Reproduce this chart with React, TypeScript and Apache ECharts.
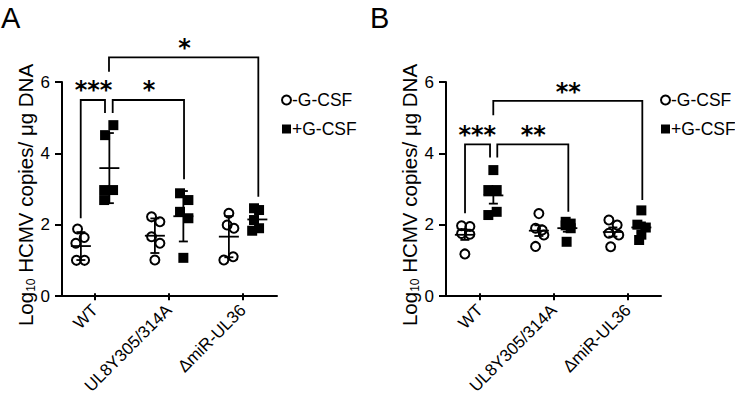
import React, { useEffect, useRef } from 'react';
import * as echarts from 'echarts';

const categories = ['WT', 'UL8Y305/314A', 'ΔmiR-UL36'];
const seriesNames = ['-G-CSF', '+G-CSF'];
const yTicks = [0, 2, 4, 6];

// Panel A: log10 HCMV copies / µg DNA, one row per virus, five animals each
const aMinus = [
  [1.88, 1.64, 1.48, 1.0, 1.0],
  [2.22, 2.08, 1.66, 1.48, 1.01],
  [2.32, 1.99, 1.9, 1.01, 1.1],
];
const aPlus = [
  [4.79, 4.51, 2.97, 2.97, 2.69],
  [2.88, 2.69, 2.36, 2.18, 1.07],
  [2.46, 2.41, 2.13, 1.9, 1.83],
];
// Panel B
const bMinus = [
  [1.97, 1.95, 1.75, 1.73, 1.18],
  [2.31, 1.9, 1.85, 1.71, 1.39],
  [2.13, 1.99, 1.76, 1.71, 1.38],
];
const bPlus = [
  [3.53, 2.97, 2.97, 2.27, 2.36],
  [2.08, 2.03, 1.98, 1.9, 1.52],
  [2.4, 2.0, 1.92, 1.72, 1.57],
];

// horizontal scatter of each point inside its group (category units)
const aMinusJitter = [
  [-0.045, 0.045, -0.068, -0.06, 0.05],
  [-0.045, 0.068, -0.045, 0.068, 0],
  [0, -0.023, 0.068, -0.068, 0.058],
];
const aPlusJitter = [
  [0.054, -0.058, -0.07, 0.05, -0.07],
  [-0.045, 0.068, -0.045, 0.068, 0],
  [-0.045, 0.023, -0.045, 0.023, -0.07],
];
const bMinusJitter = [
  [-0.045, 0.068, -0.045, 0.068, 0],
  [0, -0.045, 0.045, 0.068, -0.045],
  [-0.054, 0.058, -0.054, 0.08, -0.03],
];
const bPlusJitter = [
  [0, -0.068, 0.045, -0.068, 0.045],
  [-0.023, 0.045, -0.023, 0.045, -0.01],
  [0, -0.054, 0.06, 0, -0.03],
];

const groupOffset = [-0.195, 0.19];

// significance brackets: [xLeft, yLeftEnd, xRight, yRightEnd, yTop]
const aBrackets = [
  [-0.197, 2.18, 0.131, 5.13, 5.495],
  [0.235, 5.13, 1.199, 3.27, 5.495],
  [0.185, 6.29, 2.203, 2.78, 6.69],
];
const aStars = ['***', '*', '*'];
const aStarPos = [
  [-0.024, 5.91],
  [0.727, 5.91],
  [1.205, 7.11],
];
const bBrackets = [
  [-0.193, 2.32, 0.145, 3.88, 4.25],
  [0.243, 3.88, 1.203, 2.36, 4.25],
  [0.189, 5.07, 2.203, 2.69, 5.47],
];
const bStars = ['***', '**', '**'];
const bStarPos = [
  [-0.028, 4.65],
  [0.728, 4.65],
  [1.203, 5.87],
];

const FONT = 'Liberation Sans, Arial, Helvetica, sans-serif';

const mean = (v: number[]) => v.reduce((s, x) => s + x, 0) / v.length;
const sd = (v: number[]) => {
  const m = mean(v);
  return Math.sqrt(v.reduce((s, x) => s + (x - m) * (x - m), 0) / (v.length - 1));
};
const sem = (v: number[]) => sd(v) / Math.sqrt(v.length);

function points(groups: number[][], jitter: number[][], side: number) {
  const out: number[][] = [];
  groups.forEach((vals, i) =>
    vals.forEach((y, j) => out.push([i + groupOffset[side] + jitter[i][j], y]))
  );
  return out;
}

function barData(groups: number[][], side: number, err: (v: number[]) => number) {
  return groups.map((vals, i) => {
    const m = mean(vals);
    const e = err(vals);
    return [i + groupOffset[side], m, m - e, m + e];
  });
}

const errRender = (params: any, api: any) => {
  const x = api.value(0);
  const pm = api.coord([x, api.value(1)]);
  const pl = api.coord([x, api.value(2)]);
  const ph = api.coord([x, api.value(3)]);
  const style = { stroke: '#000', lineWidth: 1.8 };
  return {
    type: 'group',
    children: [
      { type: 'line', shape: { x1: pl[0], y1: pl[1], x2: ph[0], y2: ph[1] }, style },
      { type: 'line', shape: { x1: pm[0] - 10, y1: pm[1], x2: pm[0] + 10, y2: pm[1] }, style },
      { type: 'line', shape: { x1: pl[0] - 4.5, y1: pl[1], x2: pl[0] + 4.5, y2: pl[1] }, style },
      { type: 'line', shape: { x1: ph[0] - 4.5, y1: ph[1], x2: ph[0] + 4.5, y2: ph[1] }, style },
    ],
  };
};

const bracketRender = (params: any, api: any) => {
  const p1 = api.coord([api.value(0), api.value(1)]);
  const p2 = api.coord([api.value(0), api.value(4)]);
  const p3 = api.coord([api.value(2), api.value(4)]);
  const p4 = api.coord([api.value(2), api.value(3)]);
  return {
    type: 'polyline',
    shape: { points: [p1, p2, p3, p4] },
    style: { stroke: '#000', lineWidth: 1.8, fill: null },
  };
};

const starRender = (labels: string[]) => (params: any, api: any) => {
  const p = api.coord([api.value(0), api.value(1)]);
  const fs = 24;
  return {
    type: 'text',
    x: p[0],
    y: p[1] + fs * 0.22,
    style: {
      text: labels[params.dataIndex],
      fontSize: fs,
      fontWeight: 'bold',
      fontFamily: 'DejaVu Sans',
      fill: '#000',
      align: 'center',
      verticalAlign: 'middle',
    },
  };
};

function panelAxes(mainLeft: number, catLeft: number, gi: number) {
  return {
    grids: [
      { left: mainLeft, top: 82, width: 215, height: 214 },
      { left: catLeft, top: 82, width: 222, height: 214 },
    ],
    xAxes: [
      {
        type: 'value',
        gridIndex: gi,
        min: -0.45,
        max: -0.45 + 215 / 74,
        axisLine: { show: true, onZero: false, lineStyle: { color: '#000', width: 2 } },
        axisTick: { show: false },
        axisLabel: { show: false },
        splitLine: { show: false },
      },
      {
        type: 'category',
        gridIndex: gi + 1,
        data: categories,
        axisLine: { show: false },
        axisTick: { show: true, alignWithLabel: true, length: 7, lineStyle: { color: '#000', width: 2 } },
        axisLabel: { rotate: 45, margin: 14, fontSize: 17, fontFamily: FONT, color: '#000' },
        splitLine: { show: false },
      },
    ],
    yAxes: [
      {
        type: 'value',
        gridIndex: gi,
        min: yTicks[0],
        max: yTicks[yTicks.length - 1],
        interval: 2,
        name: '{a|Log}{b|10}{a| HCMV copies/ μg DNA}',
        nameLocation: 'middle',
        nameGap: 25,
        nameMoveOverlap: false,
        nameRotate: 90,
        nameTextStyle: {
          fontFamily: FONT,
          color: '#000',
          padding: [0, 12, 0, 0],
          rich: {
            a: { fontSize: 20.5, fontFamily: FONT, color: '#000', lineHeight: 24 },
            b: { fontSize: 12, fontFamily: FONT, color: '#000', lineHeight: 12, verticalAlign: 'bottom' },
          },
        },
        axisLine: { show: true, onZero: false, lineStyle: { color: '#000', width: 2 } },
        axisTick: { show: true, length: 7, lineStyle: { color: '#000', width: 2 } },
        axisLabel: { fontSize: 17, fontFamily: FONT, color: '#000', margin: 12 },
        splitLine: { show: false },
      },
      { type: 'value', gridIndex: gi + 1, show: false, min: 0, max: 6 },
    ],
  };
}

function panelSeries(
  minus: number[][],
  plus: number[][],
  mj: number[][],
  pj: number[][],
  err: (v: number[]) => number,
  brackets: number[][],
  stars: string[],
  starPos: number[][],
  xi: number,
  yi: number
) {
  return [
    {
      type: 'custom',
      xAxisIndex: xi,
      yAxisIndex: yi,
      renderItem: errRender,
      data: [...barData(minus, 0, err), ...barData(plus, 1, err)],
      encode: { x: 0, y: [1, 2, 3] },
      clip: false,
      z: 2,
      silent: true,
    },
    {
      name: seriesNames[0],
      type: 'scatter',
      xAxisIndex: xi,
      yAxisIndex: yi,
      symbol: 'circle',
      symbolSize: 9,
      itemStyle: { color: 'rgba(255,255,255,0)', borderColor: '#000', borderWidth: 2, opacity: 1 },
      data: points(minus, mj, 0),
      z: 3,
    },
    {
      name: seriesNames[1],
      type: 'scatter',
      xAxisIndex: xi,
      yAxisIndex: yi,
      symbol: 'rect',
      symbolSize: 10,
      itemStyle: { color: '#000', opacity: 1 },
      data: points(plus, pj, 1),
      z: 3,
    },
    {
      type: 'custom',
      xAxisIndex: xi,
      yAxisIndex: yi,
      renderItem: bracketRender,
      data: brackets,
      encode: { x: [0, 2], y: [1, 3, 4] },
      clip: false,
      silent: true,
    },
    {
      type: 'custom',
      xAxisIndex: xi,
      yAxisIndex: yi,
      renderItem: starRender(stars),
      data: starPos,
      encode: { x: 0, y: 1 },
      clip: false,
      silent: true,
    },
  ];
}

function legendFor(left: number) {
  return {
    left,
    top: 86,
    orient: 'vertical',
    itemGap: 11,
    itemWidth: 9,
    itemHeight: 9,
    textStyle: { fontSize: 17.5, fontFamily: FONT, color: '#000', padding: [0, 0, 0, -4] },
    data: [
      {
        name: seriesNames[0],
        icon: 'circle',
        itemStyle: { color: '#fff', borderColor: '#000', borderWidth: 2, opacity: 1 },
      },
      { name: seriesNames[1], icon: 'rect', itemStyle: { color: '#000', opacity: 1 } },
    ],
  };
}

export default function App() {
  const ref = useRef<HTMLDivElement>(null);
  useEffect(() => {
    if (!ref.current) return;
    const chart = echarts.init(ref.current, null, { renderer: 'svg' });
    const A = panelAxes(62, 58, 0);
    const B = panelAxes(446, 443, 2);
    chart.setOption({
      animation: false,
      backgroundColor: '#fff',
      textStyle: { fontFamily: FONT },
      grid: [...A.grids, ...B.grids],
      xAxis: [...A.xAxes, ...B.xAxes],
      yAxis: [...A.yAxes, ...B.yAxes],
      legend: [legendFor(276), legendFor(655)],
      graphic: [
        { type: 'text', left: 1, top: 3, style: { text: 'A', fontSize: 29, fontFamily: FONT, fill: '#000' } },
        { type: 'text', left: 370, top: 3, style: { text: 'B', fontSize: 29, fontFamily: FONT, fill: '#000' } },
      ],
      series: [
        ...panelSeries(aMinus, aPlus, aMinusJitter, aPlusJitter, sd, aBrackets, aStars, aStarPos, 0, 0),
        ...panelSeries(bMinus, bPlus, bMinusJitter, bPlusJitter, sem, bBrackets, bStars, bStarPos, 2, 2),
      ],
    });
    return () => chart.dispose();
  }, []);
  return (
    <div
      ref={ref}
      style={{ position: 'absolute', left: 0, top: 0, width: 735, height: 397, background: '#fff' }}
    />
  );
}
